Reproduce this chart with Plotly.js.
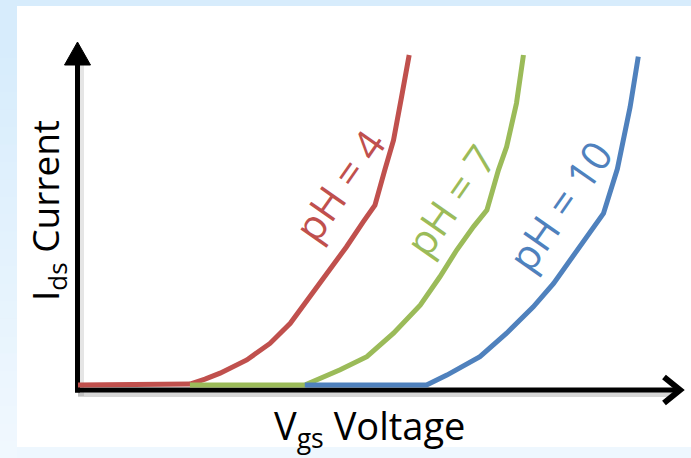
<!DOCTYPE html>
<html>
<head>
<meta charset="utf-8">
<script src="https://cdn.plot.ly/plotly-3.0.1.min.js"></script>
<style>html,body{margin:0;padding:0;background:#fff;}#chart{width:691px;height:458px;}</style>
</head>
<body>
<div id="chart"></div>
<script>
// Series labels
const seriesLabels = ['pH = 4', 'pH = 7', 'pH = 10'];
const seriesColors = ['#C0504D', '#9BBB59', '#4F81BD'];

// Vgs (arbitrary units) and Ids (arbitrary units)
const vgsPH4 = [0, 19.3, 21.9, 24.5, 29.1, 33.1, 36.6, 40.0, 43.5, 46.3, 49.2, 51.2, 52.9, 54.4, 55.8, 57.1];
const idsPH4 = [0, 0.3, 1.8, 3.6, 7.6, 12.6, 18.7, 26.8, 34.9, 41.9, 49.5, 54.5, 65.2, 74.2, 87.4, 100];

const vgsPH7 = [19.3, 39.1, 45.2, 49.8, 54.4, 59.0, 62.4, 65.3, 68.2, 70.5, 72.5, 73.9, 75.6, 76.8];
const idsPH7 = [0, 0, 4.6, 8.6, 15.7, 24.2, 32.8, 40.9, 48.0, 53.0, 65.2, 72.2, 85.4, 100];

const vgsPH10 = [39.1, 60.1, 63.6, 69.3, 73.9, 78.5, 82.0, 86.6, 90.6, 93.0, 95.2, 96.6];
const idsPH10 = [0, 0, 3.0, 8.6, 15.7, 23.7, 30.8, 41.9, 52.0, 65.5, 84.3, 99.5];

const xTitle = 'V<sub>gs</sub> Voltage';
const yTitle = 'I<sub>ds</sub> Current';

const W = 691, H = 458;
const px = v => v / W;          // pixel -> paper x
const py = v => 1 - v / H;      // pixel -> paper y

const xs = [vgsPH4, vgsPH7, vgsPH10];
const ys = [idsPH4, idsPH7, idsPH10];

const traces = xs.map((x, i) => ({
  type: 'scatter', mode: 'lines', x: x, y: ys[i], name: seriesLabels[i],
  line: {color: seriesColors[i], width: 5, shape: 'linear'},
  hoverinfo: 'skip', cliponaxis: false
}));

const FONT = '"Open Sans", "Noto Sans", sans-serif';

const shapes = [];
// outer background with a soft vertical gradient on the left strip
shapes.push({type:'rect', xref:'paper', yref:'paper', x0:0, x1:1, y0:0, y1:1, fillcolor:'#D7ECFC', line:{width:0}, layer:'below'});
const bands = 24;
const c0 = [215, 236, 252], c1 = [240, 248, 254];
for (let i = 0; i < bands; i++) {
  const t = i / (bands - 1);
  const c = c0.map((v, k) => Math.round(v + (c1[k] - v) * t));
  const yA = 40 + i * (H - 40) / bands, yB = 40 + (i + 1) * (H - 40) / bands + 1;
  shapes.push({type:'rect', xref:'paper', yref:'paper', x0:0, x1:px(17), y0:py(yB), y1:py(yA),
    fillcolor:`rgb(${c[0]},${c[1]},${c[2]})`, line:{width:0}, layer:'below'});
}
shapes.push({type:'rect', xref:'paper', yref:'paper', x0:px(17), x1:1, y0:0, y1:py(447), fillcolor:'#EEF7FE', line:{width:0}, layer:'below'});
// white panel
shapes.push({type:'rect', xref:'paper', yref:'paper', x0:px(17), x1:1, y0:py(447), y1:py(6), fillcolor:'#FFFFFF', line:{width:0}, layer:'below'});
// axis shadows
shapes.push({type:'line', xref:'paper', yref:'paper', x0:px(78), x1:px(674), y0:py(394), y1:py(394), line:{color:'rgba(0,0,0,0.16)', width:6}, layer:'below'});
shapes.push({type:'line', xref:'paper', yref:'paper', x0:px(81), x1:px(81), y0:py(396), y1:py(62), line:{color:'rgba(0,0,0,0.10)', width:6}, layer:'below'});
// axes
shapes.push({type:'line', xref:'paper', yref:'paper', x0:px(75), x1:px(676), y0:py(390), y1:py(390), line:{color:'#000', width:5}, layer:'below'});
shapes.push({type:'line', xref:'paper', yref:'paper', x0:px(77.5), x1:px(77.5), y0:py(392.5), y1:py(58), line:{color:'#000', width:5}, layer:'below'});
// arrowheads
shapes.push({type:'path', xref:'paper', yref:'paper',
  path:`M${px(664)},${py(377)} L${px(680)},${py(390)} L${px(664)},${py(403)}`,
  line:{color:'#000', width:6}, layer:'above'});
shapes.push({type:'path', xref:'paper', yref:'paper',
  path:`M${px(64.5)},${py(65)} L${px(77.5)},${py(42)} L${px(90.5)},${py(65)} Z`,
  fillcolor:'#000', line:{color:'#000', width:1}, layer:'above'});

const annotations = [
  // axis titles
  {xref:'paper', yref:'paper', x:px(369), y:py(427), text:xTitle, showarrow:false, xanchor:'center', yanchor:'middle', font:{family:FONT, size:38, color:'#000'}},
  {xref:'paper', yref:'paper', x:px(47), y:py(211), text:yTitle, showarrow:false, textangle:-90, xanchor:'center', yanchor:'middle', font:{family:FONT, size:37, color:'#000'}},
  // series labels
  {xref:'x', yref:'y', x:45.0, y:60.6, text:seriesLabels[0], showarrow:false, textangle:-55, font:{family:FONT, size:41, color:seriesColors[0]}},
  {xref:'x', yref:'y', x:64.1, y:56.1, text:seriesLabels[1], showarrow:false, textangle:-55, font:{family:FONT, size:41, color:seriesColors[1]}},
  {xref:'x', yref:'y', x:83.1, y:54.5, text:seriesLabels[2], showarrow:false, textangle:-55, font:{family:FONT, size:41, color:seriesColors[2]}}
];

const layout = {
  width: W, height: H,
  margin: {l:0, r:0, t:0, b:0, pad:0},
  paper_bgcolor: '#D7ECFC', plot_bgcolor: 'rgba(0,0,0,0)',
  showlegend: false,
  xaxis: {range: [-78/5.8, (W-78)/5.8], visible:false, fixedrange:true},
  yaxis: {range: [-(H-385)/3.3, 385/3.3], visible:false, fixedrange:true},
  shapes: shapes,
  annotations: annotations
};

Plotly.newPlot('chart', traces, layout, {staticPlot:true, displayModeBar:false});
</script>
</body>
</html>
